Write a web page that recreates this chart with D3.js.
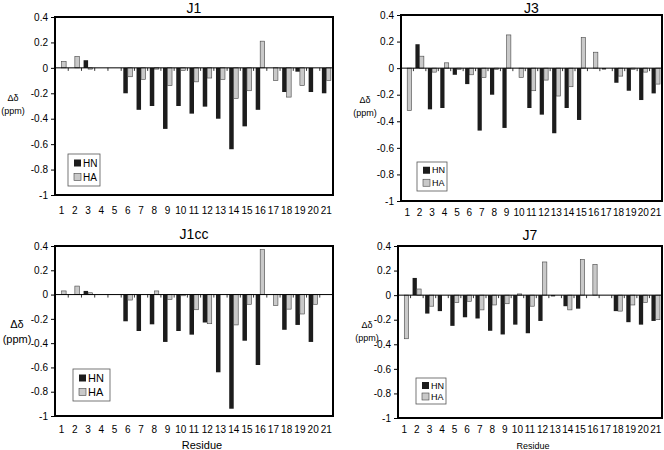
<!DOCTYPE html>
<html>
<head>
<meta charset="utf-8">
<script src="https://cdn.jsdelivr.net/npm/d3@7"></script>
<style>
  body { margin: 0; background: #fff; }
  svg { display: block; font-family: "Liberation Sans", Arial, sans-serif; }
</style>
</head>
<body>
<svg id="chart" width="664" height="450"></svg>
<script>
// Residue numbers along the x axis
const residues = d3.range(1, 22).map(String);
const yTicks = [0.4, 0.2, 0, -0.2, -0.4, -0.6, -0.8, -1];
const seriesNames = ["HN", "HA"];

// chemical shift deviations (ppm), null = no bar
const j1HN = [null, null, 0.06, null, null, -0.20, -0.33, -0.30, -0.48, -0.30, -0.36, -0.305, -0.40, -0.64, -0.46, -0.33, null, -0.19, -0.03, -0.19, -0.20];
const j1HA = [0.05, 0.09, -0.01, null, null, -0.07, -0.09, -0.01, -0.14, -0.02, -0.11, -0.08, -0.09, -0.24, -0.18, 0.21, -0.10, -0.23, -0.14, null, -0.10];

const j3HN = [null, 0.18, -0.31, -0.30, -0.05, -0.12, -0.47, -0.20, -0.45, null, -0.30, -0.35, -0.49, -0.30, -0.39, null, -0.01, -0.11, -0.17, -0.24, -0.19];
const j3HA = [-0.32, 0.09, -0.03, 0.04, -0.01, -0.05, -0.07, -0.01, 0.25, -0.07, -0.17, -0.09, -0.21, -0.14, 0.23, 0.12, null, -0.06, -0.01, -0.03, -0.12];

const j1ccHN = [null, null, 0.03, null, null, -0.22, -0.30, -0.245, -0.39, -0.30, -0.33, -0.23, -0.64, -0.94, -0.38, -0.58, null, -0.29, -0.25, -0.39, null];
const j1ccHA = [0.03, 0.07, 0.015, null, null, -0.045, null, 0.03, -0.04, -0.01, -0.125, -0.24, null, -0.25, -0.08, 0.37, -0.09, -0.12, -0.16, -0.08, null];

const j7HN = [null, 0.14, -0.15, -0.13, -0.25, -0.18, -0.19, -0.29, -0.32, -0.24, -0.31, -0.21, -0.01, -0.09, -0.11, null, null, -0.13, -0.22, -0.24, -0.21];
const j7HA = [-0.355, 0.05, -0.09, null, -0.06, -0.05, -0.12, -0.08, -0.07, 0.01, -0.09, 0.27, null, -0.12, 0.29, 0.25, null, -0.13, -0.08, -0.06, -0.20];

const colors = { HN: "#1c1c1c", HA: "#c9c9c9" };

const svg = d3.select("#chart");

/**
 * Draw one panel
 */
function drawPanel(p) {
  const x = d3.scaleBand().domain(residues).range([p.left, p.right]).paddingInner(0.32).paddingOuter(0.16);
  const xs = d3.scaleBand().domain(seriesNames).range([0, x.bandwidth()]);
  const y = d3.scaleLinear().domain([-1, 0.4]).range([p.bottom, p.top]);

  const g = svg.append("g");

  // title
  g.append("text")
    .attr("x", (p.left + p.right) / 2)
    .attr("y", p.titleY)
    .attr("text-anchor", "middle")
    .style("font-size", "14px")
    .text(p.title);

  // bars
  const rows = [];
  residues.forEach((r, i) => {
    rows.push({ r, s: "HN", v: p.hn[i] });
    rows.push({ r, s: "HA", v: p.ha[i] });
  });
  g.append("g")
    .selectAll("rect")
    .data(rows.filter((d) => d.v !== null))
    .join("rect")
    .attr("x", (d) => x(d.r) + xs(d.s))
    .attr("width", xs.bandwidth())
    .attr("y", (d) => Math.min(y(d.v), y(0)))
    .attr("height", (d) => Math.max(Math.abs(y(d.v) - y(0)), 1))
    .attr("fill", (d) => colors[d.s])
    .attr("stroke", (d) => (d.s === "HA" ? "#444" : "none"))
    .attr("stroke-width", 0.6);

  // zero line with category ticks
  g.append("line")
    .attr("x1", p.left).attr("x2", p.right)
    .attr("y1", y(0)).attr("y2", y(0))
    .attr("stroke", "#000").attr("stroke-width", 1);
  g.append("g")
    .selectAll("line")
    .data(d3.range(1, residues.length))
    .join("line")
    .attr("x1", (i) => p.left + i * x.step())
    .attr("x2", (i) => p.left + i * x.step())
    .attr("y1", y(0))
    .attr("y2", y(0) + 3)
    .attr("stroke", "#000")
    .attr("stroke-width", 0.8);

  // y axis
  const yAxis = g.append("g")
    .attr("transform", `translate(${p.left},0)`)
    .call(d3.axisLeft(y).tickValues(yTicks).tickSize(4).tickPadding(3).tickFormat((d) => String(d)));
  yAxis.select(".domain").remove();
  yAxis.selectAll("text").style("font-size", "10px").attr("fill", "#000");
  yAxis.selectAll("line").attr("stroke", "#000");

  // x labels
  g.append("g")
    .selectAll("text")
    .data(residues)
    .join("text")
    .attr("x", (d) => x(d) + x.bandwidth() / 2)
    .attr("y", p.xLabelY)
    .attr("text-anchor", "middle")
    .style("font-size", p.xFont + "px")
    .text((d) => d);

  // frame
  g.append("rect")
    .attr("x", p.left).attr("y", p.top)
    .attr("width", p.right - p.left).attr("height", p.bottom - p.top)
    .attr("fill", "none").attr("stroke", "#000").attr("stroke-width", 2);

  // y title
  g.append("text")
    .attr("x", p.yTitleX).attr("y", p.yTitleY)
    .attr("text-anchor", "middle")
    .style("font-size", p.yTitleFont + "px")
    .text("Δδ");
  g.append("text")
    .attr("x", p.yTitleX).attr("y", p.yTitleY + p.yTitleFont * 1.4)
    .attr("text-anchor", "middle")
    .style("font-size", p.yTitleFont + "px")
    .text("(ppm)");

  if (p.residueY) {
    g.append("text")
      .attr("x", p.residueX)
      .attr("y", p.residueY)
      .attr("text-anchor", "middle")
      .style("font-size", p.residueFont + "px")
      .text("Residue");
  }

  // legend
  const lg = g.append("g").attr("transform", `translate(${p.legend[0]},${p.legend[1]})`);
  lg.append("rect")
    .attr("width", p.legend[2]).attr("height", p.legend[3])
    .attr("fill", "#fff").attr("stroke", "#555").attr("stroke-width", 0.8);
  const rowH = p.legend[3] / 2;
  seriesNames.forEach((s, i) => {
    const cy = rowH * (i + 0.5) + (i === 0 ? 1 : -1);
    lg.append("rect")
      .attr("x", 6).attr("y", cy - 3.5)
      .attr("width", 7).attr("height", 7)
      .attr("fill", colors[s])
      .attr("stroke", s === "HA" ? "#444" : "none").attr("stroke-width", 0.6);
    lg.append("text")
      .attr("x", 15).attr("y", cy + p.legendFont * 0.36)
      .style("font-size", p.legendFont + "px")
      .text(s);
  });
}

drawPanel({
  title: "J1", hn: j1HN, ha: j1HA,
  left: 55, right: 333, top: 17, bottom: 195, titleY: 13,
  xLabelY: 214, xFont: 10,
  yTitleX: 13, yTitleY: 101, yTitleFont: 9,
  legend: [68, 154, 32, 32], legendFont: 10,
});
drawPanel({
  title: "J3", hn: j3HN, ha: j3HA,
  left: 401, right: 662, top: 15, bottom: 201, titleY: 13,
  xLabelY: 216, xFont: 10,
  yTitleX: 365, yTitleY: 103, yTitleFont: 9,
  legend: [417, 162, 30, 29], legendFont: 9,
});
drawPanel({
  title: "J1cc", hn: j1ccHN, ha: j1ccHA,
  left: 55, right: 333, top: 246, bottom: 416, titleY: 239,
  xLabelY: 433, xFont: 10,
  yTitleX: 17, yTitleY: 328, yTitleFont: 11,
  residueX: 202, residueY: 449, residueFont: 11,
  legend: [73, 369, 37, 32], legendFont: 11,
});
drawPanel({
  title: "J7", hn: j7HN, ha: j7HA,
  left: 398, right: 662, top: 246, bottom: 418, titleY: 240,
  xLabelY: 433, xFont: 10,
  yTitleX: 367, yTitleY: 328, yTitleFont: 9,
  residueX: 533, residueY: 449, residueFont: 9,
  legend: [416, 378, 30, 26], legendFont: 9,
});
</script>
</body>
</html>
